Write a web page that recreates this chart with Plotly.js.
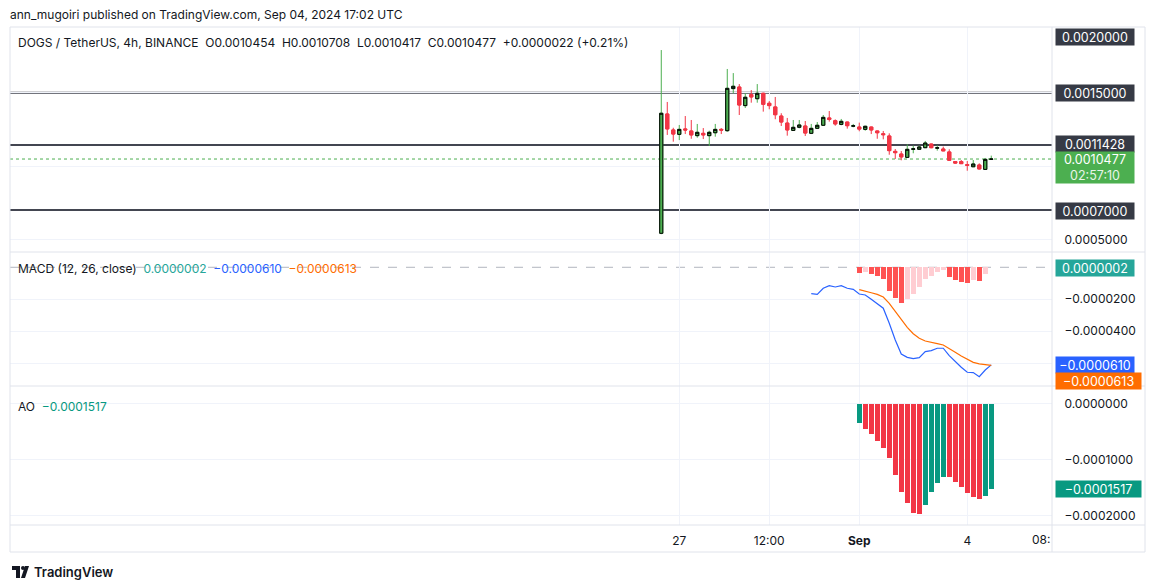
<!DOCTYPE html>
<html><head><meta charset="utf-8">
<script src="https://cdn.plot.ly/plotly-3.0.1.min.js"></script>
<style>html,body{margin:0;padding:0;background:#fff;}#chart{width:1154px;height:588px;}</style>
</head><body><div id="chart"></div>
<script>
// ---- DATA ----
const dates = [
 '2024-08-26 12:00','2024-08-26 16:00','2024-08-26 20:00',
 '2024-08-27 00:00','2024-08-27 04:00','2024-08-27 08:00','2024-08-27 12:00','2024-08-27 16:00','2024-08-27 20:00',
 '2024-08-28 00:00','2024-08-28 04:00','2024-08-28 08:00','2024-08-28 12:00','2024-08-28 16:00','2024-08-28 20:00',
 '2024-08-29 00:00','2024-08-29 04:00','2024-08-29 08:00','2024-08-29 12:00','2024-08-29 16:00','2024-08-29 20:00',
 '2024-08-30 00:00','2024-08-30 04:00','2024-08-30 08:00','2024-08-30 12:00','2024-08-30 16:00','2024-08-30 20:00',
 '2024-08-31 00:00','2024-08-31 04:00','2024-08-31 08:00','2024-08-31 12:00','2024-08-31 16:00','2024-08-31 20:00',
 '2024-09-01 00:00','2024-09-01 04:00','2024-09-01 08:00','2024-09-01 12:00','2024-09-01 16:00','2024-09-01 20:00',
 '2024-09-02 00:00','2024-09-02 04:00','2024-09-02 08:00','2024-09-02 12:00','2024-09-02 16:00','2024-09-02 20:00',
 '2024-09-03 00:00','2024-09-03 04:00','2024-09-03 08:00','2024-09-03 12:00','2024-09-03 16:00','2024-09-03 20:00',
 '2024-09-04 00:00','2024-09-04 04:00','2024-09-04 08:00','2024-09-04 12:00','2024-09-04 16:00'
];
const open  = [0.000541,0.001355,0.001246,0.001216,0.001253,0.001239,0.001207,0.001223,0.001207,0.001227,0.001250,0.001241,0.001528,0.001539,0.001412,0.001487,0.001459,0.001496,0.001428,0.001403,0.001341,0.001293,0.001243,0.001264,0.001273,0.001223,0.001257,0.001278,0.001328,0.001309,0.001284,0.001300,0.001272,0.001266,0.001250,0.001266,0.001239,0.001220,0.001205,0.001100,0.001082,0.001059,0.001114,0.001114,0.001125,0.001150,0.001122,0.001116,0.001096,0.001030,0.001030,0.001009,0.000995,0.001007,0.000977,0.0010454];
const high  = [0.001791,0.001437,0.001261,0.001280,0.001341,0.001314,0.001287,0.001259,0.001241,0.001287,0.001259,0.001662,0.001634,0.001559,0.001496,0.001518,0.001559,0.001500,0.001443,0.001471,0.001360,0.001328,0.001314,0.001314,0.001307,0.001287,0.001300,0.001348,0.001375,0.001318,0.001321,0.001302,0.001287,0.001296,0.001275,0.001268,0.001241,0.001239,0.001223,0.001116,0.001102,0.001148,0.001139,0.001139,0.001171,0.001152,0.001141,0.001132,0.001114,0.001032,0.001041,0.001034,0.001041,0.001018,0.001055,0.0010708];
const low   = [0.000535,0.001212,0.001166,0.001177,0.001218,0.001186,0.001193,0.001184,0.001137,0.001200,0.001218,0.001234,0.001496,0.001348,0.001396,0.001432,0.001432,0.001371,0.001387,0.001319,0.001273,0.001207,0.001241,0.001257,0.001205,0.001218,0.001255,0.001273,0.001303,0.001275,0.001278,0.001255,0.001264,0.001237,0.001241,0.001218,0.001186,0.001182,0.001077,0.001048,0.001039,0.001057,0.001087,0.001112,0.001123,0.001121,0.001105,0.001102,0.001037,0.001016,0.001014,0.000968,0.000993,0.000977,0.000975,0.0010417];
const close = [0.001360,0.001253,0.001218,0.001250,0.001246,0.001212,0.001230,0.001212,0.001230,0.001250,0.001245,0.001530,0.001544,0.001416,0.001469,0.001471,0.001496,0.001421,0.001412,0.001350,0.001300,0.001246,0.001264,0.001280,0.001225,0.001257,0.001278,0.001332,0.001318,0.001287,0.001305,0.001275,0.001274,0.001252,0.001271,0.001246,0.001227,0.001214,0.001105,0.001091,0.001062,0.001114,0.001117,0.001130,0.001157,0.001125,0.001124,0.001103,0.001039,0.001020,0.001016,0.001005,0.001014,0.000980,0.0010455,0.0010477];

// MACD line starts at candle 25, signal / histogram / AO start at candle 33
const macdStart = 25, sigStart = 33;
const macdLine = [-16.5e-6,-16.9e-6,-13.1e-6,-11.5e-6,-12.3e-6,-11.5e-6,-13.1e-6,-13.8e-6,-16.7e-6,-17.3e-6,-20.0e-6,-22.9e-6,-25.6e-6,-35.0e-6,-45.4e-6,-54.2e-6,-56.3e-6,-57.1e-6,-56.5e-6,-52.7e-6,-52.1e-6,-50.6e-6,-50.6e-6,-55.2e-6,-59.0e-6,-62.5e-6,-65.6e-6,-65.8e-6,-68.4e-6,-64.2e-6,-61.0e-6];
const signalLine = [-14.0e-6,-14.8e-6,-15.9e-6,-16.9e-6,-18.6e-6,-22.5e-6,-27.7e-6,-32.9e-6,-37.5e-6,-41.5e-6,-44.4e-6,-46.1e-6,-47.1e-6,-47.7e-6,-48.6e-6,-50.6e-6,-53.1e-6,-55.4e-6,-57.5e-6,-59.4e-6,-60.4e-6,-60.8e-6,-61.3e-6];
const macdHist = [-3.3e-6,-2.9e-6,-4.0e-6,-5.2e-6,-7.3e-6,-14.6e-6,-19.0e-6,-22.1e-6,-19.6e-6,-16.5e-6,-12.1e-6,-7.3e-6,-5.2e-6,-2.7e-6,-1.9e-6,-5.8e-6,-7.7e-6,-9.0e-6,-9.6e-6,-8.2e-6,-8.6e-6,-4.0e-6,0.2e-6];
const aoValues = [-33.3e-6,-44.0e-6,-53.0e-6,-65.5e-6,-78.0e-6,-95.8e-6,-126.1e-6,-156.5e-6,-176.1e-6,-194.0e-6,-195.8e-6,-179.7e-6,-156.5e-6,-140.4e-6,-129.7e-6,-130.5e-6,-138.7e-6,-147.6e-6,-158.3e-6,-165.4e-6,-169.0e-6,-163.6e-6,-151.7e-6];

const xTickVals = ['2024-08-27 00:00','2024-08-29 12:00','2024-09-01 00:00','2024-09-04 00:00','2024-09-06 08:00'];
const xTickText = ['27','12:00','<b>Sep</b>','4',''];
const priceTickVals = [0.0005,0.001,0.0015];
const priceTickText = ['0.0005000','',''];
const macdTickVals = [-0.00002,-0.00004,-0.00006];
const macdTickText = ['\u22120.0000200','\u22120.0000400',''];
const aoTickVals = [0,-0.0001,-0.0002];
const aoTickText = ['0.0000000','\u22120.0001000','\u22120.0002000'];
const levelLines = [0.0015,0.0011428,0.0007];
const lastPrice = 0.0010477;

// ---- GEOMETRY ----
const L=10,R=1052,T=27,B=525,W=R-L,H=B-T;
const px = x => (x-L)/W, py = y => (B-y)/H;
const FONT = 'Inter, "Noto Sans", sans-serif';
const TXT = '#131722', GRID = '#f0f3fa', FRAME='#e0e3eb';

const macdX = dates.slice(macdStart), sigX = dates.slice(sigStart);
const bodyHigh = open.map((o,i)=>Math.max(o,close[i]));
const bodyLow = open.map((o,i)=>Math.min(o,close[i]));
const histColors = macdHist.map((v,i)=>{const p=i>0?macdHist[i-1]:0; return v>=0?(v>=p?'#26a69a':'#b2dfdb'):(v<p?'#ff5252':'#ffcdd2');});
const aoColors = aoValues.map((v,i)=> i===0||v>=aoValues[i-1]?'#089981':'#f23645');
const barW = 4*3600*1000*0.78;

const traces = [
 {type:'candlestick',x:dates,open:open,high:high,low:low,close:close,xaxis:'x',yaxis:'y',
  increasing:{line:{color:'#4caf50',width:1},fillcolor:'#4caf50'},
  decreasing:{line:{color:'#f23645',width:1},fillcolor:'#f23645'},hoverinfo:'skip',showlegend:false},
 {type:'candlestick',x:dates,open:open,high:bodyHigh,low:bodyLow,close:close,xaxis:'x',yaxis:'y',
  increasing:{line:{color:'#000000',width:1},fillcolor:'#4caf50'},
  decreasing:{line:{color:'#f23645',width:1},fillcolor:'#f23645'},hoverinfo:'skip',showlegend:false},
 {type:'bar',x:sigX,y:macdHist,xaxis:'x',yaxis:'y2',marker:{color:histColors,line:{width:0}},width:barW,showlegend:false,hoverinfo:'skip'},
 {type:'scatter',mode:'lines',x:macdX,y:macdLine,xaxis:'x',yaxis:'y2',line:{color:'#2962ff',width:1.2},showlegend:false,hoverinfo:'skip'},
 {type:'scatter',mode:'lines',x:sigX,y:signalLine,xaxis:'x',yaxis:'y2',line:{color:'#ff6d00',width:1.2},showlegend:false,hoverinfo:'skip'},
 {type:'bar',x:sigX,y:aoValues,xaxis:'x',yaxis:'y3',marker:{color:aoColors,line:{width:0}},width:barW,showlegend:false,hoverinfo:'skip'}
];

const yCommon = {side:'right',anchor:'x',showgrid:true,gridcolor:GRID,zeroline:false,showline:false,
  ticks:'outside',ticklen:9,tickcolor:'rgba(0,0,0,0)',tickfont:{family:FONT,size:12,color:TXT},fixedrange:true,automargin:false};

const shapes = [];
levelLines.forEach(v=>shapes.push({type:'line',xref:'paper',yref:'y',x0:0,x1:1,y0:v,y1:v,line:{color:'#434651',width:2},layer:'between'}));
shapes.push({type:'line',xref:'paper',yref:'y',x0:0,x1:1,y0:lastPrice,y1:lastPrice,line:{color:'#4caf50',width:1,dash:'dot'},layer:'between'});
shapes.push({type:'line',xref:'paper',yref:'y2',x0:0,x1:1,y0:0,y1:0,line:{color:'#b2b5be',width:1,dash:'dash'},layer:'between'});
const pl = (x0,y0,x1,y1)=>shapes.push({type:'line',xref:'paper',yref:'paper',x0:px(x0),x1:px(x1),y0:py(y0),y1:py(y1),line:{color:FRAME,width:1}});
pl(10,27,1145,27); pl(10,552,1145,552); pl(10,27,10,552); pl(1145,27,1145,552); pl(1052,27,1052,552);
pl(10,252,1145,252); pl(10,386,1145,386); pl(10,525,1145,525);
// logo
shapes.push({type:'path',xref:'paper',yref:'paper',path:`M ${px(12)} ${py(566)} L ${px(20)} ${py(566)} L ${px(20)} ${py(578)} L ${px(16)} ${py(578)} L ${px(16)} ${py(570)} L ${px(12)} ${py(570)} Z`,fillcolor:TXT,line:{width:0}});
shapes.push({type:'circle',xref:'paper',yref:'paper',x0:px(21),x1:px(25),y0:py(566),y1:py(570),fillcolor:TXT,line:{width:0}});
shapes.push({type:'path',xref:'paper',yref:'paper',path:`M ${px(25)} ${py(566)} L ${px(29)} ${py(566)} L ${px(25)} ${py(578)} L ${px(21)} ${py(578)} Z`,fillcolor:TXT,line:{width:0}});

const ann = [];
const txt = (x,y,text,opts={})=>ann.push(Object.assign({xref:'paper',yref:'paper',x:px(x),y:py(y),xanchor:'left',yanchor:'middle',text:text,showarrow:false,borderpad:0,font:{family:FONT,size:12,color:TXT}},opts));
const box = (y,text,bg,w,h)=>txt(1055,y,text,{bgcolor:bg,width:w||78,height:h||16,align:'center',font:{family:FONT,size:12.5,color:'#ffffff'}});
const nb = '\u00a0\u00a0';
txt(9,15,'ann_mugoiri published on TradingView.com, Sep 04, 2024 17:02 UTC');
txt(17,43,'DOGS / TetherUS, 4h, BINANCE'+nb+'O0.0010454'+nb+'H0.0010708'+nb+'L0.0010417'+nb+'C0.0010477'+nb+'+0.0000022 (+0.21%)');
txt(17,268,'MACD (12, 26, close)'+nb+'<span style="color:#26a69a">0.0000002</span>'+nb+'<span style="color:#2962ff">\u22120.0000610</span>'+nb+'<span style="color:#ff6d00">\u22120.0000613</span>');
txt(17,406,'AO'+nb+'<span style="color:#089981">\u22120.0001517</span>');
box(37,'0.0020000','#363a45');
box(93,'0.0015000','#363a45');
box(143.5,'0.0011428','#363a45');
txt(1055,167.5,'0.0010477<br><span style="color:#e8f5e9">02:57:10</span>',{bgcolor:'#4caf50',width:78,height:31,align:'center',font:{family:FONT,size:12.5,color:'#ffffff'}});
box(210.7,'0.0007000','#363a45');
box(267.5,'0.0000002','#26a69a');
box(365,'\u22120.0000610','#2962ff',78);
box(381,'\u22120.0000613','#ff6d00',85);
box(488.5,'\u22120.0001517','#089981',85);
txt(1051,539,'08:',{xanchor:'right',font:{family:FONT,size:12,color:TXT}});
txt(33,572,'TradingView',{font:{family:FONT,size:13,color:TXT,weight:600}});

const layout = {
 width:1154,height:588,paper_bgcolor:'#ffffff',plot_bgcolor:'#ffffff',
 margin:{l:L,r:1154-R,t:T,b:588-B,pad:0},showlegend:false,bargap:0,boxgap:0.25,
 xaxis:{type:'date',range:['2024-08-08 09:48','2024-09-06 08:30'],anchor:'y3',tickvals:xTickVals,ticktext:xTickText,
   showgrid:true,gridcolor:GRID,zeroline:false,showline:false,ticks:'outside',ticklen:5,tickcolor:'rgba(0,0,0,0)',tickfont:{family:FONT,size:12,color:TXT},
   rangeslider:{visible:false},fixedrange:true,automargin:false},
 yaxis:Object.assign({},yCommon,{domain:[py(252),1],range:[0.0007-42/146600,0.0007+183/146600],tickvals:priceTickVals,ticktext:priceTickText}),
 yaxis2:Object.assign({},yCommon,{domain:[py(386),py(252)],range:[-74.2e-6,9.56e-6],tickvals:macdTickVals,ticktext:macdTickText}),
 yaxis3:Object.assign({},yCommon,{domain:[0,py(386)],range:[-216.1e-6,32.1e-6],tickvals:aoTickVals,ticktext:aoTickText}),
 shapes:shapes,annotations:ann,hovermode:false
};
Plotly.newPlot('chart',traces,layout,{staticPlot:true,displayModeBar:false});
</script></body></html>
